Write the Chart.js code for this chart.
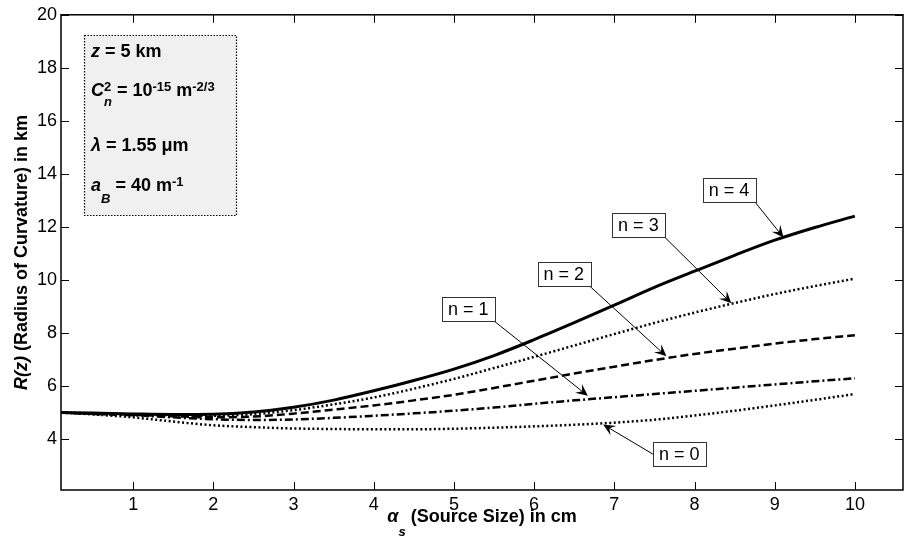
<!DOCTYPE html>
<html>
<head>
<meta charset="utf-8">
<script src="https://cdn.jsdelivr.net/npm/chart.js@4.4.1/dist/chart.umd.min.js"></script>
<style>
    html, body { margin: 0; padding: 0; background: #fff; }
    canvas { display: block; }
</style>
</head>
<body>
<canvas id="chartjs-0" width="904" height="543"></canvas>
<script>
"use strict";

/* Source size in cm (x values) */
let sourceSize = [0.1, 0.5, 1, 1.5, 2, 2.5, 3, 3.5, 4, 4.5, 5, 5.5, 6, 6.5, 7, 7.5, 8, 8.5, 9, 9.5, 10];

/* Radius of curvature in km, one array per n */
let radiusN0 = [5.0, 4.93, 4.82, 4.66, 4.52, 4.45, 4.40, 4.38, 4.37, 4.37, 4.39, 4.43, 4.48, 4.54, 4.62, 4.73, 4.89, 5.07, 5.27, 5.48, 5.70];
let radiusN1 = [5.0, 4.95, 4.90, 4.82, 4.75, 4.72, 4.74, 4.80, 4.88, 4.97, 5.07, 5.19, 5.33, 5.46, 5.58, 5.70, 5.82, 5.94, 6.06, 6.18, 6.29];
let radiusN2 = [5.0, 4.96, 4.92, 4.86, 4.82, 4.85, 4.96, 5.11, 5.27, 5.46, 5.67, 5.93, 6.20, 6.47, 6.73, 6.98, 7.21, 7.41, 7.60, 7.77, 7.92];
let radiusN3 = [5.0, 4.97, 4.93, 4.89, 4.88, 4.94, 5.09, 5.31, 5.57, 5.90, 6.27, 6.68, 7.10, 7.53, 7.96, 8.38, 8.77, 9.13, 9.47, 9.77, 10.05];
let radiusN4 = [5.0, 4.98, 4.95, 4.93, 4.94, 5.02, 5.20, 5.47, 5.82, 6.21, 6.64, 7.15, 7.75, 8.39, 9.05, 9.72, 10.33, 10.93, 11.50, 11.98, 12.41];

let seriesNames = ["n = 0", "n = 1", "n = 2", "n = 3", "n = 4"];
let seriesValues = [radiusN0, radiusN1, radiusN2, radiusN3, radiusN4];

/* Tick labels */
let xTicks = [1, 2, 3, 4, 5, 6, 7, 8, 9, 10];
let yTicks = [4, 6, 8, 10, 12, 14, 16, 18, 20];

/* Label boxes and arrow heads, in data units */
let labelX = [7.81, 5.18, 6.37, 7.30, 8.43];
let labelY = [3.43, 8.89, 10.21, 12.07, 13.38];
let tipX = [6.86, 6.67, 7.65, 8.46, 9.11];
let tipY = [4.55, 5.63, 7.12, 9.12, 11.60];

/* Line styles per n */
let dashes = [[2, 2.5], [8, 3, 2, 3], [8, 4], [2, 2.5], []];

const FONT = "'Liberation Sans', Arial, Helvetica, sans-serif";

function richFont(p, size) {
    let s = Math.round(size * (p.scale || 1));
    return (p.it ? "italic " : "") + "bold " + s + "px " + FONT;
}

function richWidth(ctx, parts, size) {
    let w = 0, hold = 0;
    parts.forEach(p => {
        ctx.font = richFont(p, size);
        let pw = ctx.measureText(p.t).width;
        if (p.hold) { hold = Math.max(hold, pw); }
        else { w += Math.max(hold, pw); hold = 0; }
    });
    return w;
}

function drawRich(ctx, parts, x, y, size) {
    let hold = 0;
    parts.forEach(p => {
        ctx.font = richFont(p, size);
        ctx.fillText(p.t, x, y + (p.dy || 0));
        let pw = ctx.measureText(p.t).width;
        if (p.hold) { hold = Math.max(hold, pw); }
        else { x += Math.max(hold, pw); hold = 0; }
    });
}

function drawArrow(ctx, x0, y0, x1, y1) {
    let ang = Math.atan2(y1 - y0, x1 - x0);
    let len = 12, half = 5.5;
    ctx.beginPath();
    ctx.moveTo(x0, y0);
    ctx.lineTo(x1 - Math.cos(ang) * 6, y1 - Math.sin(ang) * 6);
    ctx.stroke();
    ctx.save();
    ctx.translate(x1, y1);
    ctx.rotate(ang);
    ctx.beginPath();
    ctx.moveTo(0, 0);
    ctx.lineTo(-len, -half);
    ctx.lineTo(-len * 0.6, 0);
    ctx.lineTo(-len, half);
    ctx.closePath();
    ctx.fill();
    ctx.restore();
}

const decorations = {
    id: "decorations",
    afterDraw(chart) {
        const ctx = chart.ctx;
        const a = chart.chartArea;
        const xs = chart.scales.x, ys = chart.scales.y;
        ctx.save();

        /* axes box */
        ctx.strokeStyle = "#000";
        ctx.lineWidth = 1.5;
        ctx.strokeRect(a.left, a.top, a.right - a.left, a.bottom - a.top);

        /* inward ticks on all four sides */
        ctx.lineWidth = 1;
        ctx.beginPath();
        xTicks.forEach(v => {
            let px = Math.round(xs.getPixelForValue(v)) + 0.5;
            ctx.moveTo(px, a.bottom); ctx.lineTo(px, a.bottom - 8);
            ctx.moveTo(px, a.top); ctx.lineTo(px, a.top + 8);
        });
        yTicks.forEach(v => {
            let py = Math.round(ys.getPixelForValue(v)) + 0.5;
            ctx.moveTo(a.left, py); ctx.lineTo(a.left + 8, py);
            ctx.moveTo(a.right, py); ctx.lineTo(a.right - 8, py);
        });
        ctx.stroke();

        /* parameter box */
        ctx.fillStyle = "#f0f0f0";
        ctx.fillRect(84.5, 35.5, 152, 180);
        ctx.setLineDash([1.5, 1.5]);
        ctx.strokeStyle = "#000";
        ctx.lineWidth = 1.2;
        ctx.strokeRect(84.5, 35.5, 152, 180);
        ctx.setLineDash([]);
        ctx.lineWidth = 1;
        ctx.fillStyle = "#000";
        ctx.textBaseline = "alphabetic";
        ctx.textAlign = "left";
        drawRich(ctx, [{t: "z", it: 1}, {t: " = 5 km"}], 91, 57, 18);
        drawRich(ctx, [{t: "C", it: 1}, {t: "2", scale: 0.7, dy: -5, hold: 1}, {t: "n", it: 1, scale: 0.7, dy: 10},
            {t: " = 10"}, {t: "-15", scale: 0.7, dy: -5}, {t: " m"}, {t: "-2/3", scale: 0.7, dy: -5}], 91, 96, 18);
        drawRich(ctx, [{t: "\u03bb", it: 1}, {t: " = 1.55 "}, {t: "\u03bcm"}], 91, 151, 18);
        drawRich(ctx, [{t: "a", it: 1}, {t: "B", it: 1, scale: 0.7, dy: 12}, {t: " = 40 m"}, {t: "-1", scale: 0.7, dy: -5}], 91, 191, 18);

        /* axis titles */
        let xt = [{t: "\u03b1", it: 1}, {t: "s", it: 1, scale: 0.7, dy: 14}, {t: " (Source Size) in cm"}];
        let xw = richWidth(ctx, xt, 18);
        drawRich(ctx, xt, (a.left + a.right) / 2 - xw / 2, 521.5, 18);

        let yt = [{t: "R(z)", it: 1}, {t: " (Radius of Curvature) in km"}];
        let yw = richWidth(ctx, yt, 18);
        ctx.save();
        ctx.translate(27, (a.top + a.bottom) / 2);
        ctx.rotate(-Math.PI / 2);
        drawRich(ctx, yt, -yw / 2, 0, 18);
        ctx.restore();

        /* text arrows */
        ctx.font = "18px " + FONT;
        seriesNames.forEach((name, i) => {
            let cx = xs.getPixelForValue(labelX[i]);
            let cy = ys.getPixelForValue(labelY[i]);
            let tx = xs.getPixelForValue(tipX[i]);
            let ty = ys.getPixelForValue(tipY[i]);
            let w = ctx.measureText(name).width + 12;
            let h = 24;
            let dx = tx - cx, dy = ty - cy;
            let sx, sy;
            if (Math.abs(dy) / Math.abs(dx) < 0.5) {
                sx = cx + Math.sign(dx) * w / 2; sy = cy;
            } else {
                sx = cx + Math.sign(dx) * w / 2; sy = cy + Math.sign(dy) * h / 2;
            }
            ctx.strokeStyle = "#000";
            ctx.fillStyle = "#000";
            ctx.lineWidth = 1;
            drawArrow(ctx, sx, sy, tx, ty);
            ctx.fillStyle = "#fff";
            ctx.fillRect(cx - w / 2, cy - h / 2, w, h);
            ctx.strokeStyle = "#333";
            ctx.strokeRect(Math.round(cx - w / 2) + 0.5, Math.round(cy - h / 2) + 0.5, Math.round(w), h);
            ctx.fillStyle = "#000";
            ctx.textAlign = "center";
            ctx.textBaseline = "middle";
            ctx.font = "18px " + FONT;
            ctx.fillText(name, cx, cy + 1);
        });
        ctx.restore();
    }
};

let ctx0 = document.getElementById("chartjs-0");
let myChart0 = new Chart(ctx0, {
    type: "line",
    data: {
        datasets: seriesValues.map((vals, i) => ({
            label: seriesNames[i],
            data: sourceSize.map((x, k) => ({x: x, y: vals[k]})),
            borderColor: "#000",
            borderWidth: i === 4 ? 3 : 2.5,
            borderDash: dashes[i],
            borderCapStyle: "butt",
            fill: false,
            pointRadius: 0,
            cubicInterpolationMode: "monotone"
        }))
    },
    options: {
        responsive: false,
        animation: false,
        devicePixelRatio: 1,
        layout: { padding: { top: 13, right: 1, left: 0, bottom: 0 } },
        plugins: { legend: { display: false }, tooltip: { enabled: false } },
        scales: {
            x: {
                type: "linear",
                min: 0.1,
                max: 10.6,
                grid: { display: false, drawTicks: false },
                border: { display: false },
                afterBuildTicks: s => { s.ticks = xTicks.map(v => ({value: v})); },
                afterFit: s => { s.height = 53; },
                ticks: { color: "#000", padding: 4, autoSkip: false, maxRotation: 0,
                         font: { family: FONT, size: 18 } }
            },
            y: {
                type: "linear",
                min: 2.08,
                max: 20,
                grid: { display: false, drawTicks: false },
                border: { display: false },
                afterBuildTicks: s => { s.ticks = yTicks.map(v => ({value: v})); },
                afterFit: s => { s.width = 61; },
                ticks: { color: "#000", padding: 4, autoSkip: false,
                         font: { family: FONT, size: 18 } }
            }
        }
    },
    plugins: [decorations]
});
</script>
</body>
</html>
